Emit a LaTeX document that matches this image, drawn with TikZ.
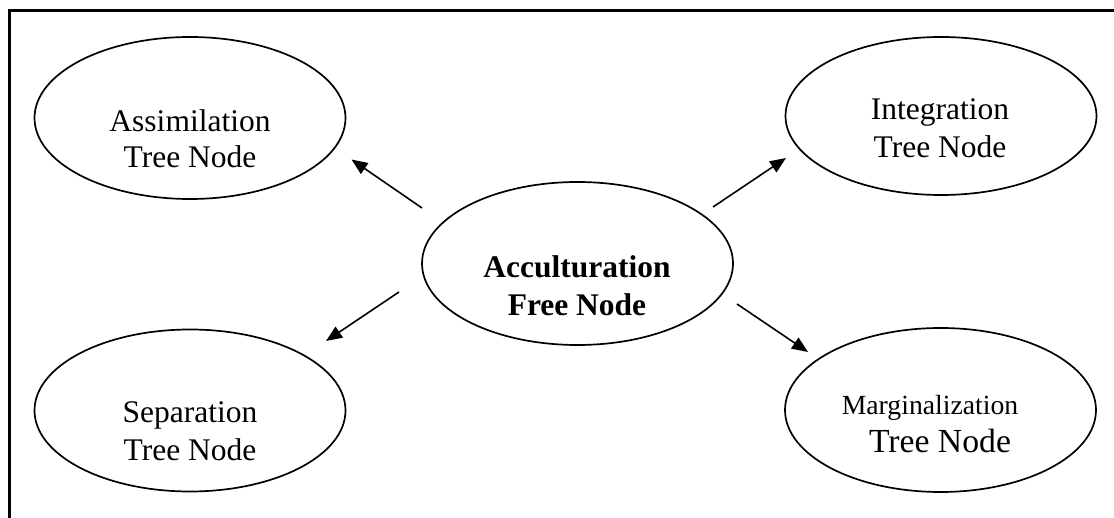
\documentclass[tikz,border=0pt]{standalone}
\usepackage{fontspec}
\setmainfont{Liberation Serif}
\usetikzlibrary{shapes.geometric,arrows.meta}
\tikzset{
  oval/.style={draw, ellipse, line width=1.7pt, minimum width=311pt, minimum height=162pt, inner sep=0pt},
  lbl/.style={align=center, inner sep=0pt, font=\fontsize{31.5}{38}\selectfont},
  arr/.style={line width=1.6pt, -{Triangle[length=16pt,width=13pt]}},
  frame/.style={line width=3pt}
}
\begin{document}
\begin{tikzpicture}[x=1pt,y=-1pt]
\useasboundingbox (0,0) rectangle (1114,518);
% frame (top and left only)
\coordinate (fr1) at (1114,11);
\coordinate (fr2) at (9,11);
\coordinate (fr3) at (9,518);
\draw[frame] (fr1) -- (fr2) -- (fr3);
% ellipses
\node[oval] (assim) at (190,118) {};
\node[oval, minimum height=158pt] (integ) at (941,116) {};
\node[oval] (separ) at (190,410.5) {};
\node[oval, minimum height=164pt] (margin) at (940.5,410) {};
\node[oval, minimum height=163pt] (accult) at (577.5,263.5) {};
% labels
\node[lbl, font=\fontsize{31.5}{36}\selectfont] (assimT) at (190,139) {Assimilation\\Tree Node};
\node[lbl] (integT) at (940,128) {Integration\\Tree Node};
\node[lbl] (separT) at (190,431) {Separation\\Tree Node};
\node[lbl] (marginT) at (940,424) {{\fontsize{27.7}{38}\selectfont Marginalization\hspace*{20pt}}\\{\fontsize{33.7}{38}\selectfont Tree Node}};
\node[lbl, font=\fontsize{31.5}{38}\selectfont\bfseries] (accultT) at (577,286) {Acculturation\\Free Node};
% arrow end points
\coordinate (sA) at (422,208);
\coordinate (tA) at (351.5,159.5);
\coordinate (sI) at (713,207);
\coordinate (tI) at (786,158);
\coordinate (sS) at (399,292);
\coordinate (tS) at (326,341);
\coordinate (sM) at (737,304);
\coordinate (tM) at (808,352);
\draw[arr] (sA) -- (tA);
\draw[arr] (sI) -- (tI);
\draw[arr] (sS) -- (tS);
\draw[arr] (sM) -- (tM);
\end{tikzpicture}
\end{document}
